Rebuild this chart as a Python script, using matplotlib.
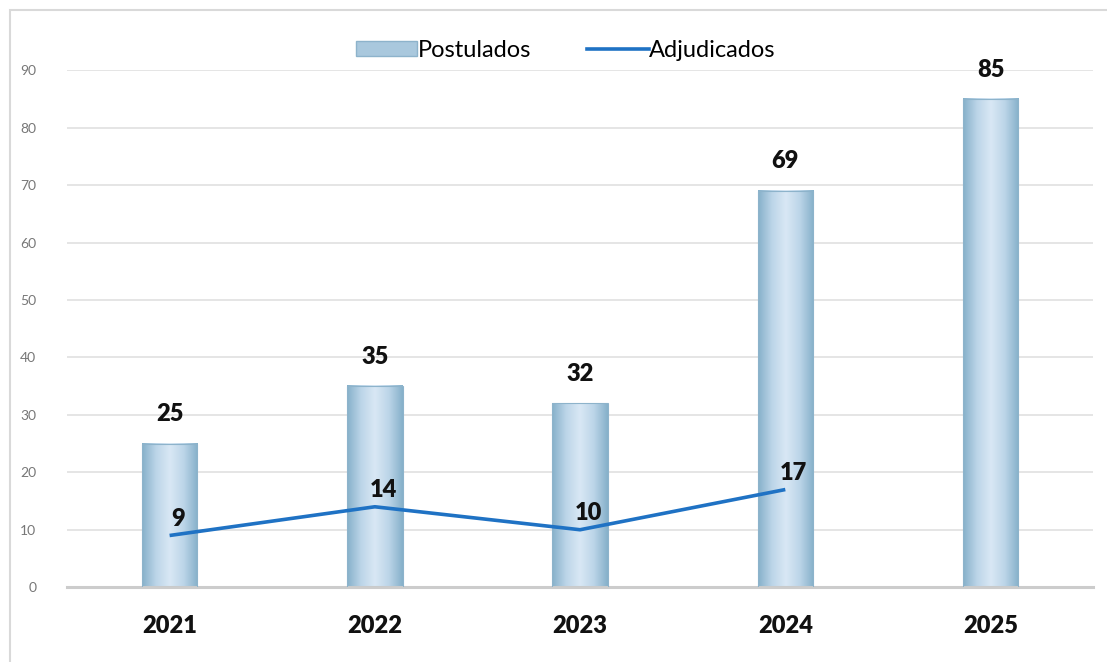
import numpy as np
import matplotlib
matplotlib.use('Agg')
import matplotlib.pyplot as plt
from matplotlib.patches import Rectangle
from matplotlib.colors import LinearSegmentedColormap

plt.rcParams['font.family'] = ['Lato', 'DejaVu Sans']

years = ['2021', '2022', '2023', '2024', '2025']
postulados = [25, 35, 32, 69, 85]
adj_years = ['2021', '2022', '2023', '2024']
adjudicados = [9, 14, 10, 17]

fig = plt.figure(figsize=(11.07, 6.62), dpi=100)
ax = fig.add_axes([0.0605, 0.113, 0.927, 0.781])

# outer chart border
fig.patches.append(Rectangle((10/1107, -0.05), 1.1, 1.05 - 10/662, transform=fig.transFigure,
                             fill=False, edgecolor='#d9d9d9', linewidth=1.5))

x = np.arange(len(years))
bw = 0.27
bars = ax.bar(x, postulados, width=bw, color='none', edgecolor='#8db3cb', linewidth=0.8, zorder=3)

# horizontal gradient fill: darker edges, light centre
cmap = LinearSegmentedColormap.from_list('g', ['#86b0ca', '#bcd5e8', '#d9e8f5', '#bcd5e8', '#86b0ca'])
grad = np.linspace(0, 1, 128).reshape(1, -1)
for b in bars:
    x0, w, h = b.get_x(), b.get_width(), b.get_height()
    ax.imshow(grad, cmap=cmap, aspect='auto', extent=[x0, x0 + w, 0, h], zorder=2,
              interpolation='bicubic')
    ax.text(x0 + w/2, h + 3.2, str(int(h)), ha='center', va='bottom', fontsize=17,
            fontweight='heavy', color='#111111', zorder=5)

xa = [years.index(y) for y in adj_years]
ax.plot(xa, adjudicados, color='#1f72c4', linewidth=2.6, zorder=4, solid_capstyle='butt')
for xi, v in zip(xa, adjudicados):
    ax.text(xi + 0.04, v + 1.0, str(v), ha='center', va='bottom', fontsize=17,
            fontweight='heavy', color='#111111', zorder=5)

ax.set_xlim(-0.5, 4.5)
ax.set_ylim(0, 90)
ax.set_yticks(np.arange(0, 91, 10))
ax.set_xticks(x)
ax.set_xticklabels(years, fontsize=17, fontweight='heavy', color='#111111')
ax.tick_params(axis='y', length=0, labelsize=10, labelcolor='#777777', pad=22)
ax.tick_params(axis='x', length=0, pad=20)
ax.yaxis.grid(True, color='#e0e0e0', linewidth=1.2, zorder=0)
ax.set_axisbelow(True)
for s in ['top', 'right', 'left']:
    ax.spines[s].set_visible(False)
ax.spines['bottom'].set_color('#cccccc')
ax.spines['bottom'].set_linewidth(2.2)

# legend handles
leg_bar = Rectangle((0, 0), 1, 1, facecolor='#a9c8dd', edgecolor='#8db3cb')
leg_line, = ax.plot([], [], color='#1f72c4', linewidth=2.6)
ax.legend([leg_bar, leg_line], ['Postulados', 'Adjudicados'], loc='upper center',
          bbox_to_anchor=(0.486, 1.1), ncol=2, frameon=False, fontsize=17,
          handlelength=2.6, handleheight=0.6, handletextpad=0.0, columnspacing=2.4)

fig.savefig('out.png', dpi=100)
